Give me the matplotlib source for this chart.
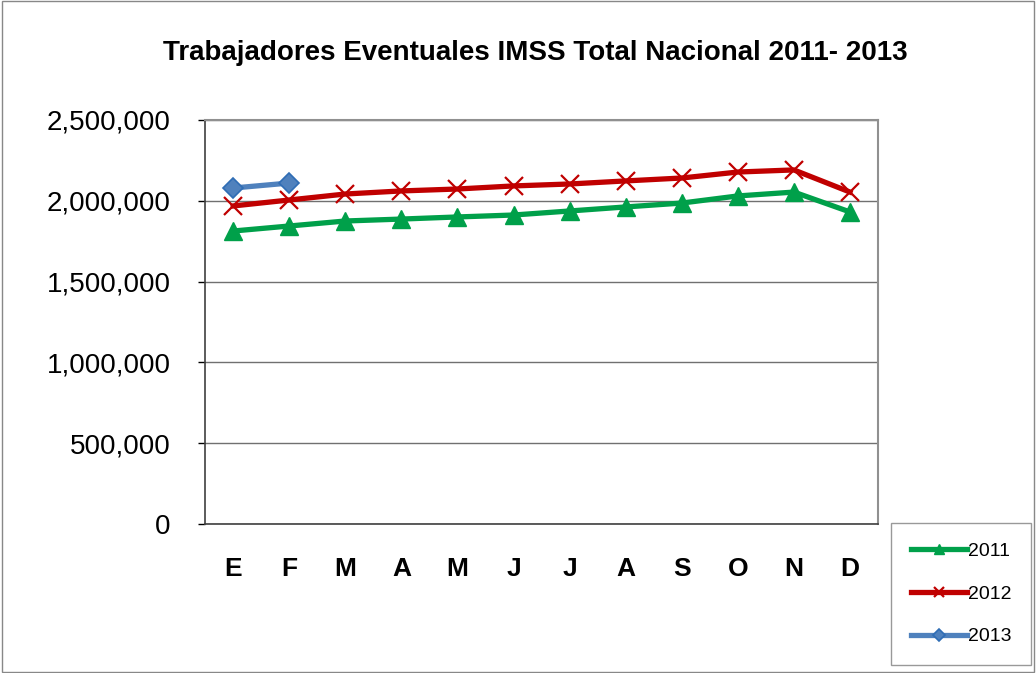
import matplotlib
matplotlib.use("Agg")
import matplotlib.pyplot as plt
from matplotlib.ticker import FuncFormatter

plt.rcParams["font.family"] = ["Liberation Sans", "DejaVu Sans"]

MESES = ["E", "F", "M", "A", "M", "J", "J", "A", "S", "O", "N", "D"]
Y2011 = [1813000, 1844000, 1875000, 1887000, 1900000, 1912000,
         1937000, 1962000, 1986000, 2030000, 2054000, 1931000]
Y2012 = [1968000, 2005000, 2042000, 2061000, 2073000, 2092000,
         2104000, 2123000, 2141000, 2178000, 2191000, 2054000]
Y2013 = [2079000, 2110000]

GREEN = "#00A04A"
RED = "#C00000"
BLUE = "#4F81BD"

fig = plt.figure(figsize=(10.36, 6.73), dpi=100)
ax = fig.add_axes([0.198, 0.2214, 0.6495, 0.6003])

x = list(range(len(MESES)))
ax.plot(x, Y2011, color=GREEN, lw=3.8, marker="^", ms=13,
        mfc=GREEN, mec=GREEN, label="2011", zorder=3)
ax.plot(x, Y2012, color=RED, lw=3.8, marker="x", ms=13, mew=1.6,
        mec=RED, label="2012", zorder=4)
ax.plot(x[:len(Y2013)], Y2013, color=BLUE, lw=3.8, marker="D", ms=10,
        mfc=BLUE, mec="#2F6DB5", mew=1.2, label="2013", zorder=5)

ax.set_xlim(-0.5, len(MESES) - 0.5)
ax.set_ylim(0, 2500000)
ax.set_yticks(range(0, 2500001, 500000))
ax.yaxis.set_major_formatter(FuncFormatter(lambda v, p: format(int(v), ",")))
ax.tick_params(axis="y", labelsize=20, length=5, direction="out", width=1, pad=20)
ax.set_xticks(x)
ax.set_xticklabels(MESES, fontsize=19, fontweight="bold")
ax.tick_params(axis="x", length=0, pad=24)
ax.grid(True, axis="y", color="#707070", lw=1)
ax.set_axisbelow(True)
for side in ["top", "right"]:
    ax.spines[side].set_color("#909090")
    ax.spines[side].set_linewidth(1.5)
for side in ["left", "bottom"]:
    ax.spines[side].set_color("#404040")
    ax.spines[side].set_linewidth(1.2)

fig.text(0.5165, 0.921, "Trabajadores Eventuales IMSS Total Nacional 2011- 2013",
         ha="center", va="center", fontsize=20, fontweight="bold")

leg = fig.legend(loc="lower right", bbox_to_anchor=(0.995, 0.012),
                 fontsize=14, frameon=True, fancybox=False, handlelength=2.9,
                 markerscale=0.6, labelspacing=1.3, borderpad=1.0,
                 borderaxespad=0.0, handletextpad=0.05)
leg.get_frame().set_edgecolor("#808080")
leg.get_frame().set_linewidth(1)

fig.patches.append(plt.Rectangle((0.002, 0.002), 0.996, 0.996,
                                 transform=fig.transFigure, fill=False,
                                 edgecolor="#888888", lw=1))

fig.savefig("out.png", dpi=100)
